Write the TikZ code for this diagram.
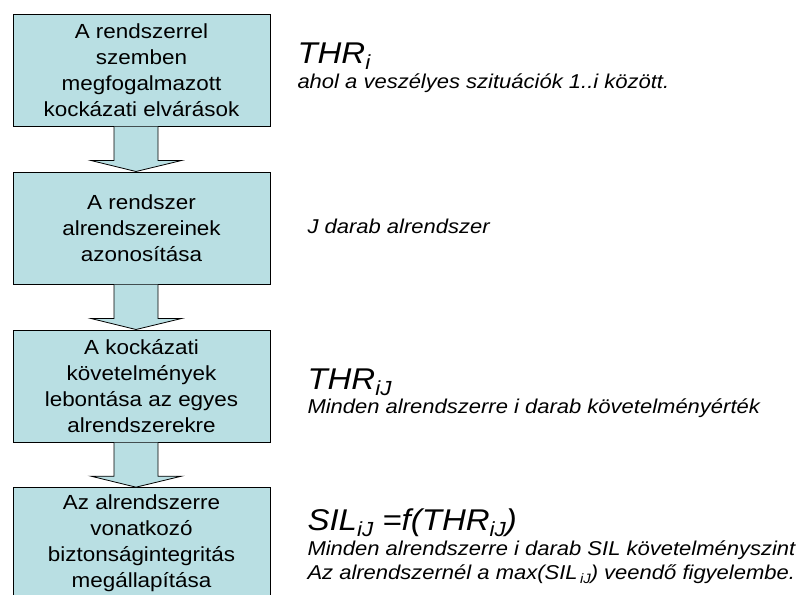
\documentclass[tikz,border=0pt]{standalone}
\usepackage{fontspec}
\setmainfont{Liberation Sans}[FakeStretch=1.1]
\usepackage{tikz}
\usetikzlibrary{positioning,calc}

\definecolor{boxfill}{RGB}{185,223,227}
\newcommand{\lowidx}[1]{\raisebox{-0.2em}{\scalebox{0.68}{#1}}}

\begin{document}
\begin{tikzpicture}[x=0.75pt,y=-0.75pt,line width=0.75pt]
        \tikzstyle{stepbox}=[draw=black,fill=boxfill,rectangle,align=center,
            minimum width=192.75pt,minimum height=84pt,inner sep=0pt,
            font=\fontsize{15.3}{19.5}\selectfont]
        \tikzstyle{blockarrow}=[draw=black,fill=boxfill,line width=0.6pt]
        \tikzstyle{bigmath}=[anchor=base west,inner sep=0pt,font=\fontsize{22.5}{24}\selectfont\itshape]
        \tikzstyle{note}=[anchor=base west,inner sep=0pt,
            font=\fontsize{15}{18}\selectfont\itshape]

        \useasboundingbox (0,0) rectangle (806,594);

        \node[stepbox] (b1) at (141.5,70) {A rendszerrel\\szemben\\megfogalmazott\\kockázati elvárások};
        \node[stepbox] (b2) [below=33.75pt of b1] {A rendszer\\alrendszereinek\\azonosítása};
        \node[stepbox] (b3) [below=33.75pt of b2] {A kockázati\\követelmények\\lebontása az egyes\\alrendszerekre};
        \node[stepbox] (b4) [below=33.5pt of b3] {Az alrendszerre\\vonatkozó\\biztonságintegritás\\megállapítása};

        \foreach \a/\b in {b1/b2,b2/b3,b3/b4}
            \draw[blockarrow] ($(\a.south)+(-27.5,0)$) -- ($(\b.north)+(-27.5,-11)$)
                -- ($(\b.north)+(-50.5,-11)$) -- ($(\b.north)+(-5.5,0)$)
                -- ($(\b.north)+(40,-11)$) -- ($(\b.north)+(16.5,-11)$)
                -- ($(\a.south)+(16.5,0)$);

        \node[bigmath] (thri) at (297,63) {THR\lowidx{i}};
        \node[note] (thrinote) at (297,88) {ahol a veszélyes szituációk 1..i között.};

        \node[note] (jnote) at (307,233) {J darab alrendszer};

        \node[bigmath] (thrij) at (307,389) {THR\lowidx{iJ}};
        \node[note] (thrijnote) at (307,413) {Minden alrendszerre i darab követelményérték};

        \node[bigmath] (silij) at (307,530) {SIL\lowidx{iJ} =f(THR\lowidx{iJ})};
        \node[note] (silnote1) at (307,555) {Minden alrendszerre i darab SIL követelményszint};
        \node[note] (silnote2) at (307,579) {Az alrendszernél a max(SIL\lowidx{\,iJ}) veendő figyelembe.};
\end{tikzpicture}
\end{document}
